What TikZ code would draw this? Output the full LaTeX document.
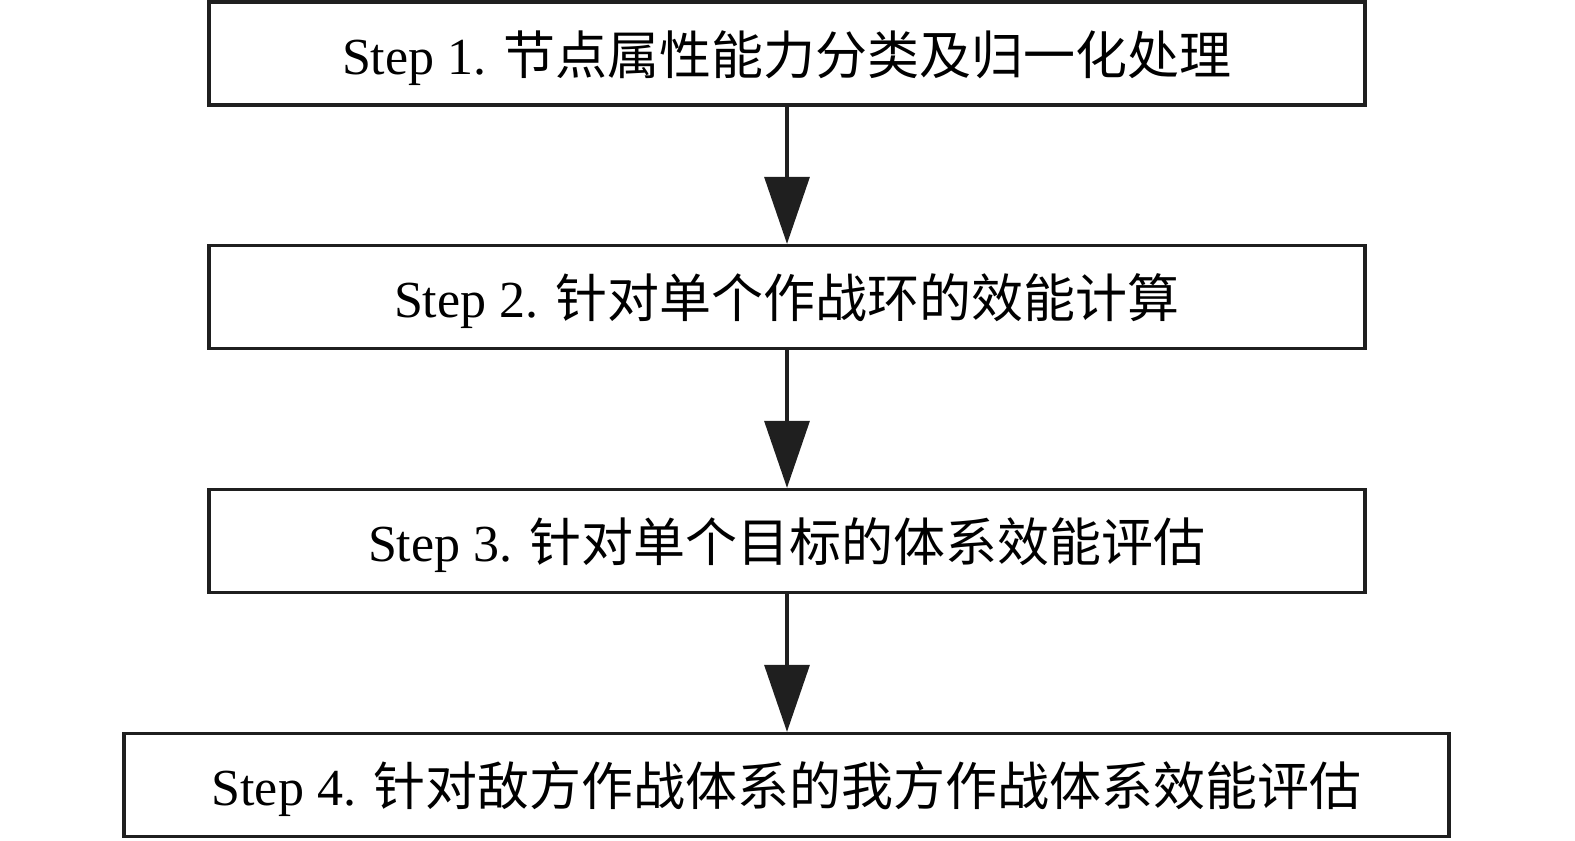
\documentclass[tikz,border=0pt]{standalone}
\usepackage{fontspec}
\setmainfont{Liberation Serif}
\newfontfamily\cjk{Noto Sans CJK SC}
\usetikzlibrary{arrows.meta}
\tikzset{
  stepbox/.style={draw=black!88, line width=1.9pt, minimum height=2.06cm, inner sep=0pt, text depth=0.05cm, font=\fontsize{29.6}{32}\selectfont},
  flow/.style={draw=black!88, line width=1.9pt, -{Triangle[length=1.34cm,width=0.9cm]}}
}
\begin{document}
\begin{tikzpicture}[x=0.02cm,y=-0.02cm]
\useasboundingbox (0,0) rectangle (1575,840);
\node[stepbox, minimum width=23.12cm] (s1) at (787,53.5) {Step 1. {\cjk 节点属性能力分类及归一化处理}};
\node[stepbox, minimum width=23.12cm] (s2) at (787,297) {Step 2. {\cjk 针对单个作战环的效能计算}};
\node[stepbox, minimum width=23.12cm] (s3) at (787,541) {Step 3. {\cjk 针对单个目标的体系效能评估}};
\node[stepbox, minimum width=26.5cm] (s4) at (786.5,785) {Step 4. {\cjk 针对敌方作战体系的我方作战体系效能评估}};
\draw[flow] (s1) -- (s2);
\draw[flow] (s2) -- (s3);
\draw[flow] (s3.south) -- (s3.south |- s4.north);
\end{tikzpicture}
\end{document}
